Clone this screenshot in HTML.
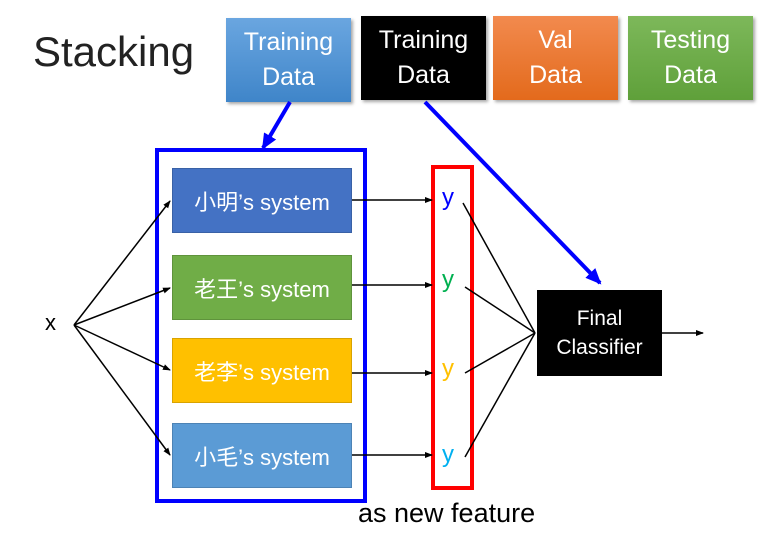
<!DOCTYPE html>
<html><head><meta charset="utf-8"><style>
html,body{margin:0;padding:0;background:#fff;}
body{width:777px;height:538px;position:relative;overflow:hidden;font-family:"Liberation Sans","Noto Sans CJK SC",sans-serif;}
.b{position:absolute;color:#fff;text-align:center;display:flex;align-items:center;justify-content:center;box-sizing:border-box;}
.top{font-size:25px;line-height:35px;box-shadow:2px 2px 3px rgba(0,0,0,.35);}
.sys{left:172px;width:180px;height:65px;font-size:22px;border:1px solid rgba(0,0,0,.15);}
.t{position:absolute;}
</style></head><body>
<div class="t" style="left:33px;top:28px;font-size:42px;color:#222;">Stacking</div>
<div class="b top" style="left:226px;top:18px;width:125px;height:84px;background:linear-gradient(#6aa6e0,#3f85c9);">Training<br>Data</div>
<div class="b top" style="left:361px;top:16px;width:125px;height:84px;background:#000;">Training<br>Data</div>
<div class="b top" style="left:493px;top:16px;width:125px;height:84px;background:linear-gradient(#f28a4e,#e36a1c);">Val<br>Data</div>
<div class="b top" style="left:628px;top:16px;width:125px;height:84px;background:linear-gradient(#7db85a,#5fa03a);">Testing<br>Data</div>

<div class="b sys" style="top:168px;background:#4472c4;">小明’s system</div>
<div class="b sys" style="top:255px;background:#70ad47;">老王’s system</div>
<div class="b sys" style="top:338px;background:#ffc000;">老李’s system</div>
<div class="b sys" style="top:423px;background:#5b9bd5;">小毛’s system</div>

<div class="b" style="left:537px;top:290px;width:125px;height:86px;background:#000;font-size:21px;line-height:29px;">Final<br>Classifier</div>

<svg width="777" height="538" style="position:absolute;left:0;top:0;">
<defs>
<marker id="a" markerWidth="8" markerHeight="8" refX="7" refY="4" orient="auto" markerUnits="userSpaceOnUse"><path d="M0,1 L8,4 L0,7 z" fill="#000"/></marker>
<marker id="bb" markerWidth="16" markerHeight="16" refX="14" refY="8" orient="auto" markerUnits="userSpaceOnUse"><path d="M0,1 L16,8 L0,15 z" fill="#0000ff"/></marker>
</defs>
<rect x="157" y="150" width="208" height="351" fill="none" stroke="#0000ff" stroke-width="4"/>
<rect x="433" y="167" width="39" height="321" fill="none" stroke="#ff0000" stroke-width="4"/>
<g stroke="#000" stroke-width="1.5" fill="none">
<line x1="74" y1="325" x2="170" y2="201" marker-end="url(#a)"/>
<line x1="74" y1="325" x2="170" y2="288" marker-end="url(#a)"/>
<line x1="74" y1="325" x2="170" y2="370" marker-end="url(#a)"/>
<line x1="74" y1="325" x2="170" y2="455" marker-end="url(#a)"/>
<line x1="352" y1="200" x2="432" y2="200" marker-end="url(#a)"/>
<line x1="352" y1="285" x2="432" y2="285" marker-end="url(#a)"/>
<line x1="352" y1="373" x2="432" y2="373" marker-end="url(#a)"/>
<line x1="352" y1="455" x2="432" y2="455" marker-end="url(#a)"/>
<line x1="463" y1="203" x2="535" y2="333"/>
<line x1="465" y1="287" x2="535" y2="333"/>
<line x1="465" y1="373" x2="535" y2="333"/>
<line x1="465" y1="457" x2="535" y2="333"/>
<line x1="662" y1="333" x2="703" y2="333" marker-end="url(#a)"/>
</g>
<line x1="290" y1="102" x2="263" y2="148" stroke="#0000ff" stroke-width="4" marker-end="url(#bb)"/>
<line x1="425" y1="102" x2="600" y2="283" stroke="#0000ff" stroke-width="4" marker-end="url(#bb)"/>
</svg>
<div class="t" style="left:45px;top:310px;font-size:22px;color:#000;">x</div>
<div class="t" style="left:442px;top:184px;font-size:24px;color:#0000ff;">y</div>
<div class="t" style="left:442px;top:266px;font-size:24px;color:#00b050;">y</div>
<div class="t" style="left:442px;top:355px;font-size:24px;color:#ffc000;">y</div>
<div class="t" style="left:442px;top:441px;font-size:24px;color:#00b0f0;">y</div>
<div class="t" style="left:358px;top:498px;font-size:27px;color:#000;">as new feature</div>
</body></html>
